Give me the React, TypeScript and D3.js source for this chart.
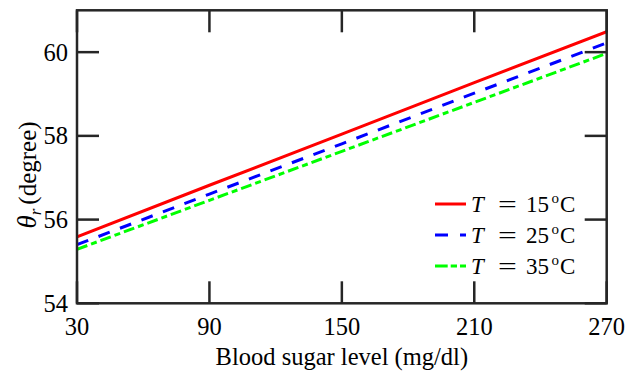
import React from "react";
import * as d3 from "d3";

const xTicks = [30, 90, 150, 210, 270];
const yTicks = [54, 56, 58, 60];
const sugar = [30, 90, 150, 210, 270];
const t15 = [55.59, 56.82, 58.04, 59.27, 60.49];
const t25 = [55.4, 56.61, 57.81, 59.02, 60.22];
const t35 = [55.29, 56.46, 57.63, 58.8, 59.97];
const seriesNames = ["15", "25", "35"];

const W = 627, H = 371;
const M = { left: 77, right: 606.7, top: 10.3, bottom: 303.3 };
const AX = "#262626";
const FONT = "'Liberation Serif', 'Times New Roman', serif";

export default function App() {
  const x = d3.scaleLinear().domain([30, 270]).range([M.left, M.right]);
  const y = d3.scaleLinear().domain([54, 61]).range([M.bottom, M.top]);
  const line = d3.line<number>().x((_, i) => x(sugar[i])).y((d) => y(d));
  const series = [
    { vals: t15, color: "#ff0000", dash: undefined as string | undefined },
    { vals: t25, color: "#0000ff", dash: "12,11" },
    { vals: t35, color: "#00ff00", dash: "11,4,6,4" },
  ];
  const tickLen = 22;
  return (
    <svg width={W} height={H} style={{ position: "absolute", left: 0, top: 0 }} fontFamily={FONT}>
      <rect width={W} height={H} fill="#fff" />
      <defs>
        <clipPath id="clip">
          <rect x={M.left} y={M.top} width={M.right - M.left} height={M.bottom - M.top} />
        </clipPath>
      </defs>
      <g clipPath="url(#clip)">
        {series.map((s, i) => (
          <path key={i} d={line(s.vals) || ""} fill="none" stroke={s.color} strokeWidth={3} strokeDasharray={s.dash} />
        ))}
      </g>
      {xTicks.map((t) => (
        <g key={"x" + t}>
          <line x1={x(t)} x2={x(t)} y1={M.bottom} y2={M.bottom - tickLen} stroke={AX} strokeWidth={2.5} />
          <line x1={x(t)} x2={x(t)} y1={M.top} y2={M.top + tickLen} stroke={AX} strokeWidth={2.5} />
          <text x={x(t)} y={335} textAnchor="middle" fontSize={24.5} fill="#000">{t}</text>
        </g>
      ))}
      {yTicks.map((t) => (
        <g key={"y" + t}>
          <line x1={M.left} x2={M.left + tickLen} y1={y(t)} y2={y(t)} stroke={AX} strokeWidth={2.5} />
          <line x1={M.right} x2={M.right - tickLen} y1={y(t)} y2={y(t)} stroke={AX} strokeWidth={2.5} />
          <text x={68} y={y(t) + 8.5} textAnchor="end" fontSize={24.5} fill="#000">{t}</text>
        </g>
      ))}
      <rect x={M.left} y={M.top} width={M.right - M.left} height={M.bottom - M.top} fill="none" stroke={AX} strokeWidth={2.5} />
      <text x={(M.left + M.right) / 2} y={365} textAnchor="middle" fontSize={24.5} fill="#000">Blood sugar level (mg/dl)</text>
      <text transform={`translate(36, 175) rotate(-90)`} textAnchor="middle" fontSize={25} fill="#000">
        <tspan fontStyle="italic" fontSize={27}>θ</tspan>
        <tspan fontStyle="italic" fontSize={17} dy={5}>r</tspan>
        <tspan dy={-5} dx={4}>(degree)</tspan>
      </text>
      {series.map((s, i) => {
        const ly = 204 + i * 31;
        const bl = ly + 8;
        return (
          <g key={"l" + i} fontSize={23} fill="#000">
            <line x1={435} x2={466} y1={ly} y2={ly} stroke={s.color} strokeWidth={3} strokeDasharray={s.dash ? (i === 1 ? "13,12" : "12.7,3,6.3,3") : undefined} />
            <text x={471} y={bl} fontStyle="italic">T</text>
            <text transform={`translate(507.5, ${bl}) scale(1.45, 1)`} textAnchor="middle">=</text>
            <text x={526} y={bl}>{seriesNames[i]}</text>
            <text x={551.5} y={bl - 9} fontSize={15}>o</text>
            <text x={560} y={bl}>C</text>
          </g>
        );
      })}
    </svg>
  );
}
